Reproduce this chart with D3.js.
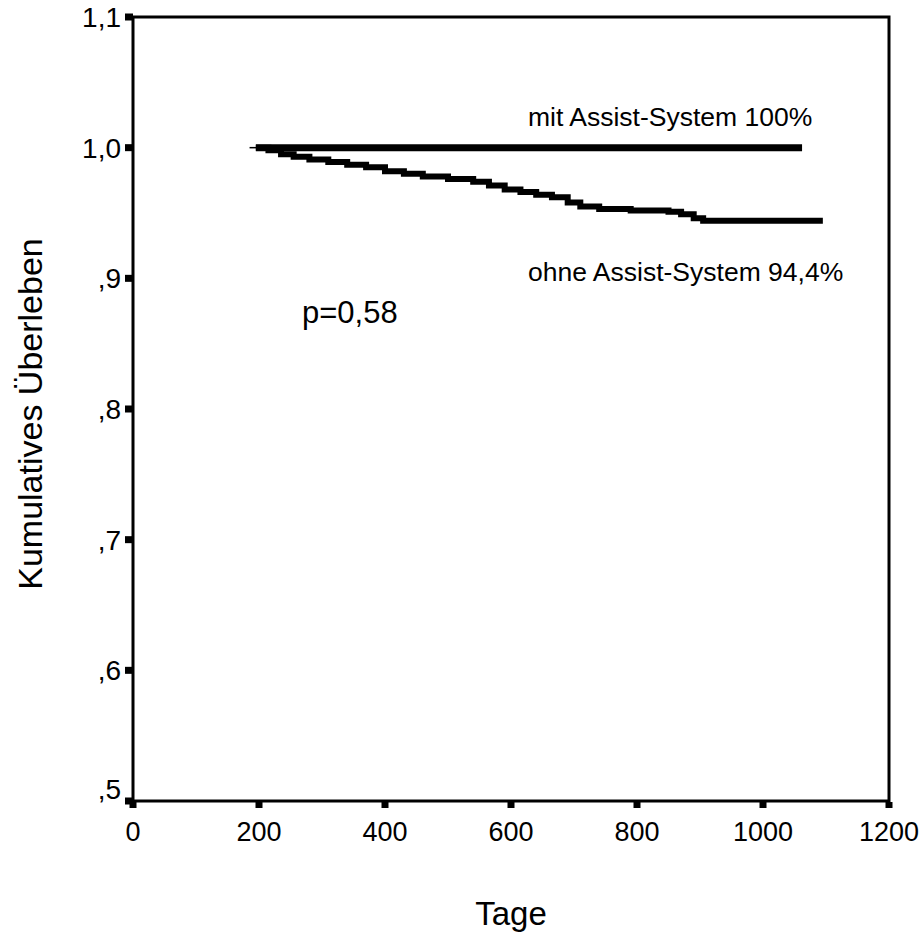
<!DOCTYPE html>
<html>
<head>
    <meta charset="utf-8">
    <title>Kumulatives Überleben</title>
    <style>
        body { margin: 0; background: #fff; }
        text { font-family: "Liberation Sans", Arial, sans-serif; fill: #000; }
    </style>
</head>
<body>
    <svg width="924" height="939"></svg>
    <script src="https://cdnjs.cloudflare.com/ajax/libs/d3/7.8.5/d3.min.js"></script>
    <script>
        // Achsen
        const xTicks = [0, 200, 400, 600, 800, 1000, 1200];
        const yTicks = [0.5, 0.6, 0.7, 0.8, 0.9, 1.0, 1.1];
        const yTickLabels = [",5", ",6", ",7", ",8", ",9", "1,0", "1,1"];

        // mit Assist-System: keine Ereignisse
        const mitTage = [195, 1062];
        const mitWerte = [1.0, 1.0];

        // ohne Assist-System: Stufen (Tage, kumulatives Überleben)
        const ohneTage = [195, 215, 235, 255, 280, 310, 340, 370, 400, 430, 460, 500, 540, 565, 590, 615, 640, 665, 690, 710, 740, 790, 850, 870, 890, 905, 1095];
        const ohneWerte = [1.000, 0.998, 0.995, 0.993, 0.991, 0.989, 0.987, 0.985, 0.982, 0.980, 0.978, 0.976, 0.974, 0.971, 0.968, 0.966, 0.964, 0.962, 0.958, 0.955, 0.953, 0.952, 0.951, 0.949, 0.946, 0.944, 0.944];

        const svg = d3.select("svg");
        const margin = { left: 133, right: 35, top: 17, bottom: 138 };
        const width = 924 - margin.left - margin.right;
        const height = 939 - margin.top - margin.bottom;

        const x = d3.scaleLinear().domain([0, 1200]).range([margin.left, margin.left + width]);
        const y = d3.scaleLinear().domain([0.5, 1.1]).range([margin.top + height, margin.top]);

        // Rahmen
        svg.append("rect")
            .attr("x", x(0)).attr("y", y(1.1))
            .attr("width", x(1200) - x(0)).attr("height", y(0.5) - y(1.1))
            .attr("fill", "none").attr("stroke", "#000").attr("stroke-width", 3);

        // y-Achse mit quadratischen Ticks
        const yg = svg.append("g");
        yg.selectAll("rect").data(yTicks).enter().append("rect")
            .attr("x", x(0) - 8).attr("y", d => y(d) - 3.5)
            .attr("width", 8).attr("height", 7);
        yg.selectAll("text").data(yTicks).enter().append("text")
            .attr("x", x(0) - 12)
            .attr("y", d => y(d) + (d === 0.5 ? -2 : 10))
            .attr("text-anchor", "end")
            .style("font-size", "28px")
            .text((d, i) => yTickLabels[i]);

        // x-Achse
        const xg = svg.append("g");
        xg.selectAll("rect").data(xTicks).enter().append("rect")
            .attr("x", d => x(d) - 3.5).attr("y", y(0.5) + 1)
            .attr("width", 7).attr("height", 6);
        xg.selectAll("text").data(xTicks).enter().append("text")
            .attr("x", d => x(d))
            .attr("y", y(0.5) + 40)
            .attr("text-anchor", "middle")
            .style("font-size", "27px")
            .text(d => d);

        // Kurven
        const line = d3.line()
            .x(d => x(d[0]))
            .y(d => y(d[1]))
            .curve(d3.curveStepAfter);

        svg.append("line")
            .attr("x1", x(185)).attr("x2", x(200))
            .attr("y1", y(1.0)).attr("y2", y(1.0))
            .attr("stroke", "#000").attr("stroke-width", 1.5);

        svg.append("path")
            .datum(d3.zip(mitTage, mitWerte))
            .attr("d", line)
            .attr("fill", "none").attr("stroke", "#000").attr("stroke-width", 7);

        svg.append("path")
            .datum(d3.zip(ohneTage, ohneWerte))
            .attr("d", line)
            .attr("fill", "none").attr("stroke", "#000").attr("stroke-width", 6);

        // Beschriftungen
        svg.append("text").attr("x", 528).attr("y", 126)
            .style("font-size", "26.5px").text("mit Assist-System 100%");
        svg.append("text").attr("x", 528).attr("y", 281)
            .style("font-size", "26.5px").text("ohne Assist-System 94,4%");
        svg.append("text").attr("x", 302).attr("y", 323)
            .style("font-size", "31px").text("p=0,58");

        svg.append("text")
            .attr("transform", "translate(42,414) rotate(-90)")
            .attr("text-anchor", "middle")
            .style("font-size", "34px")
            .text("Kumulatives Überleben");
        svg.append("text")
            .attr("x", x(600)).attr("y", 925)
            .attr("text-anchor", "middle")
            .style("font-size", "33px")
            .text("Tage");
    </script>
</body>
</html>
